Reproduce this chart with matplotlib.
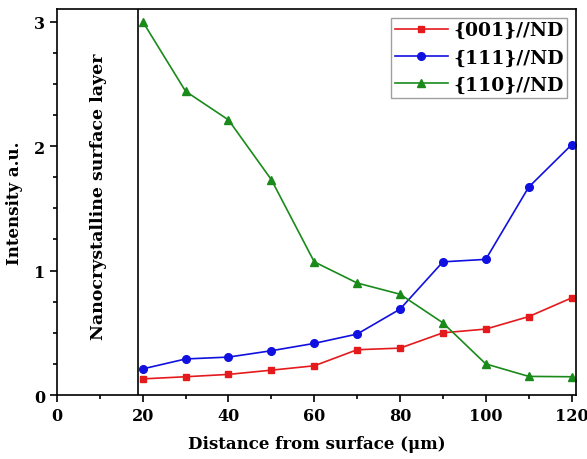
import matplotlib
matplotlib.use("Agg")
import matplotlib.pyplot as plt
from matplotlib.ticker import MultipleLocator

distance = [20, 30, 40, 50, 60, 70, 80, 90, 100, 110, 120]
i001 = [0.13, 0.147, 0.166, 0.20, 0.235, 0.364, 0.377, 0.50, 0.53, 0.63, 0.78]
i111 = [0.21, 0.29, 0.305, 0.356, 0.415, 0.49, 0.69, 1.07, 1.09, 1.67, 2.01]
i110 = [3.0, 2.44, 2.21, 1.73, 1.07, 0.90, 0.81, 0.58, 0.25, 0.15, 0.147]
labels = ["{001}//ND", "{111}//ND", "{110}//ND"]
layer_boundary = 19

plt.rcParams['font.family'] = ['DejaVu Serif']
plt.rcParams['font.weight'] = 'bold'

fig = plt.figure(figsize=(5.87, 4.6), dpi=100)
ax = fig.add_axes([0.097, 0.139, 0.884, 0.839])

ax.plot(distance, i001, color='#e41a1c', marker='s', markersize=5, lw=1.2, label=labels[0])
ax.plot(distance, i111, color='#1010e0', marker='o', markersize=5.5, lw=1.2, label=labels[1])
ax.plot(distance, i110, color='#1a8a1a', marker='^', markersize=6, lw=1.2, label=labels[2])

ax.axvline(layer_boundary, color='black', lw=1.2)
ax.text(9.6, 1.6, "Nanocrystalline surface layer", rotation=90, ha='center', va='center',
        fontsize=12.5, fontweight='bold')

ax.set_xlim(0, 121)
ax.set_ylim(0, 3.1)
ax.xaxis.set_major_locator(MultipleLocator(20))
ax.xaxis.set_minor_locator(MultipleLocator(10))
ax.yaxis.set_major_locator(MultipleLocator(1))
ax.yaxis.set_minor_locator(MultipleLocator(0.25))
ax.tick_params(which='both', direction='out', width=1.2)
ax.tick_params(which='major', length=5, labelsize=11.5)
ax.tick_params(which='minor', length=3)
for lab in ax.get_xticklabels() + ax.get_yticklabels():
    lab.set_fontweight('bold')
for s in ax.spines.values():
    s.set_linewidth(1.2)

ax.set_xlabel("Distance from surface (\u03bcm)", fontsize=12, fontweight='bold', labelpad=8)
ax.set_ylabel("Intensity a.u.", fontsize=12, fontweight='bold', labelpad=8)

leg = ax.legend(loc='upper right', frameon=True, fancybox=False,
                handlelength=2.8, borderpad=0.2, labelspacing=0.5, handletextpad=0.3,
                borderaxespad=0.45, prop={'weight': 'bold', 'size': 13.5})
leg.get_frame().set_edgecolor('#888888')
leg.get_frame().set_linewidth(1.0)

fig.savefig("out.png", dpi=100)
